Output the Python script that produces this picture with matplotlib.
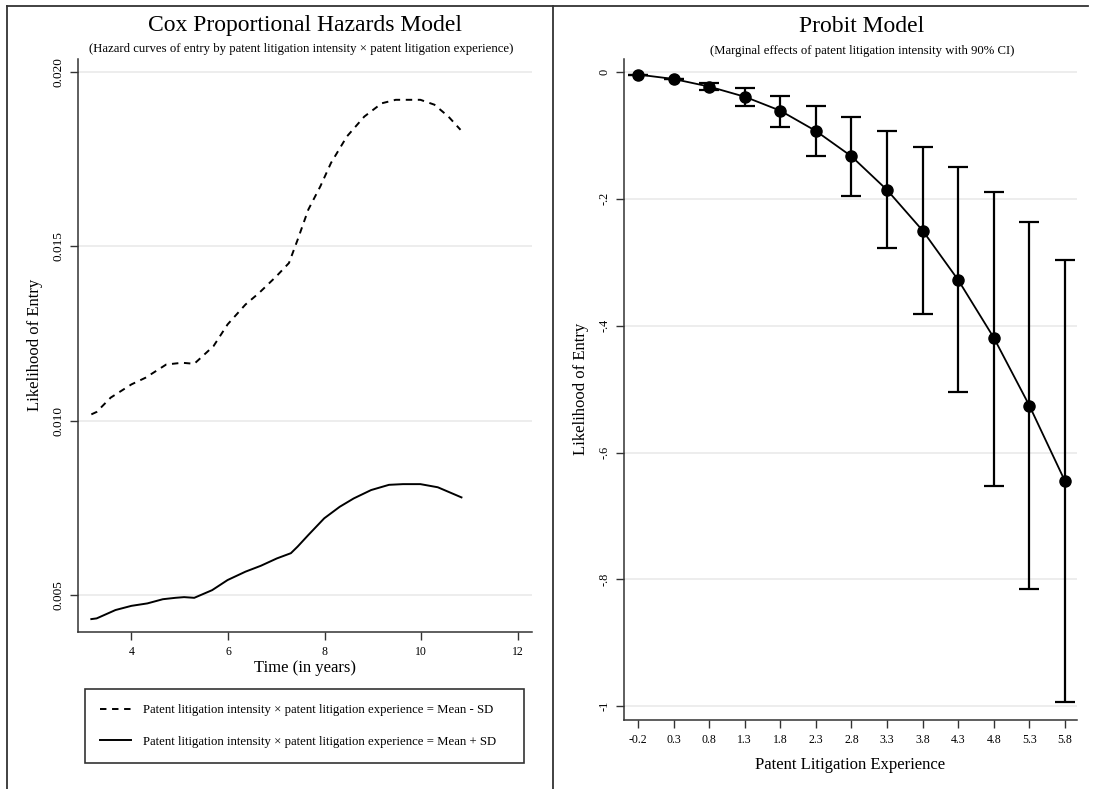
import matplotlib
matplotlib.use("Agg")
import matplotlib.pyplot as plt
from matplotlib.lines import Line2D

plt.rcParams['font.family'] = ['Liberation Serif', 'DejaVu Serif']

# left panel: hazard curves
t_minus = [3.17, 3.28, 3.57, 4.0, 4.29, 4.72, 5.05, 5.30, 5.70, 5.99, 6.36, 6.64, 7.0, 7.26,
           7.44, 7.66, 7.91, 8.13, 8.46, 8.82, 9.18, 9.47, 9.98, 10.27, 10.56, 10.81]
h_minus = [0.01018, 0.01025, 0.01066, 0.01104, 0.01123, 0.01161, 0.01166, 0.01163, 0.01214,
           0.01276, 0.01333, 0.01366, 0.01414, 0.01452, 0.01519, 0.01605, 0.01672, 0.01739,
           0.01815, 0.01872, 0.01910, 0.01920, 0.01920, 0.01906, 0.01872, 0.01834]
t_plus = [3.17, 3.28, 3.67, 4.0, 4.33, 4.65, 4.91, 5.09, 5.30, 5.67, 5.99, 6.36, 6.68, 7.01,
          7.30, 7.44, 7.66, 7.99, 8.31, 8.60, 8.96, 9.33, 9.62, 9.98, 10.34, 10.83]
h_plus = [0.00431, 0.00433, 0.00457, 0.00469, 0.00476, 0.00488, 0.00492, 0.00494, 0.00492,
          0.00514, 0.00543, 0.00567, 0.00584, 0.00605, 0.00620, 0.00639, 0.00672, 0.00720,
          0.00753, 0.00777, 0.00801, 0.00816, 0.00818, 0.00818, 0.00809, 0.00780]

# right panel: marginal effects with 90% CI
exper = [-0.2, 0.3, 0.8, 1.3, 1.8, 2.3, 2.8, 3.3, 3.8, 4.3, 4.8, 5.3, 5.8]
effect = [-0.004, -0.011, -0.023, -0.039, -0.061, -0.093, -0.133, -0.186, -0.250, -0.328,
          -0.419, -0.526, -0.645]
ci_hi = [-0.004, -0.011, -0.018, -0.026, -0.038, -0.054, -0.071, -0.093, -0.119, -0.150,
         -0.189, -0.236, -0.296]
ci_lo = [-0.004, -0.011, -0.028, -0.053, -0.086, -0.132, -0.196, -0.278, -0.381, -0.505,
         -0.652, -0.815, -0.994]

left_yticks = [0.005, 0.010, 0.015, 0.020]
left_xticks = [4, 6, 8, 10, 12]
right_yticks = [0, -0.2, -0.4, -0.6, -0.8, -1.0]
right_ylabels = ['0', '-.2', '-.4', '-.6', '-.8', '-1']

W, H = 1093, 789
fig = plt.figure(figsize=(W / 100, H / 100), dpi=100)
spine_col = '#333333'
dash = (0, (3.3, 2.9))


def box(l, t, r, b):
    return [l / W, 1 - b / H, (r - l) / W, (b - t) / H]


def style(ax, ysize):
    for s in ['top', 'right']:
        ax.spines[s].set_visible(False)
    for s in ['left', 'bottom']:
        ax.spines[s].set_color(spine_col)
        ax.spines[s].set_linewidth(1.1)
    ax.tick_params(direction='out', length=6, width=1.0, color=spine_col,
                   labelsize=8.5, pad=4)
    ax.tick_params(axis='y', labelsize=ysize)
    ax.yaxis.grid(True, color='#ececec', lw=1.3)
    ax.set_axisbelow(True)
    plt.setp(ax.get_yticklabels(), rotation=90, va='center')


# left
ax1 = fig.add_axes(box(78, 59, 532, 632))
ax1.plot(t_minus, h_minus, color='black', lw=1.4, ls=dash)
ax1.plot(t_plus, h_plus, color='black', lw=1.4)
ax1.set_xlim(2.894, 12.29)
ax1.set_ylim(0.00394, 0.02037)
ax1.set_xticks(left_xticks)
ax1.set_yticks(left_yticks)
ax1.set_yticklabels(['%.3f' % v for v in left_yticks])
style(ax1, 9.5)

# right
ax2 = fig.add_axes(box(624, 59, 1077, 720))
ax2.errorbar(exper, effect,
             yerr=[[e - l for e, l in zip(effect, ci_lo)], [h - e for e, h in zip(effect, ci_hi)]],
             fmt='o', color='black', ms=8, lw=1.5, ecolor='black', elinewidth=1.6,
             capsize=7.5, capthick=1.6, zorder=3)
ax2.plot(exper, effect, color='black', lw=1.3, zorder=3)
ax2.set_xlim(-0.397, 5.969)
ax2.set_ylim(-1.0216, 0.0205)
ax2.set_xticks(exper)
ax2.set_xticklabels(['%.1f' % v for v in exper])
ax2.set_yticks(right_yticks)
ax2.set_yticklabels(right_ylabels)
style(ax2, 8.8)

# titles and labels
fig.text(305 / W, 1 - 25 / H, 'Cox Proportional Hazards Model', ha='center', va='center', fontsize=17)
fig.text(301 / W, 1 - 49 / H,
         '(Hazard curves of entry by patent litigation intensity \u00d7 patent litigation experience)',
         ha='center', va='center', fontsize=9.2)
fig.text(862 / W, 1 - 27 / H, 'Probit Model', ha='center', va='center', fontsize=17)
fig.text(862 / W, 1 - 51 / H, '(Marginal effects of patent litigation intensity with 90% CI)',
         ha='center', va='center', fontsize=9.2)
fig.text(305 / W, 1 - 668 / H, 'Time (in years)', ha='center', va='center', fontsize=12)
fig.text(850 / W, 1 - 765 / H, 'Patent Litigation Experience', ha='center', va='center', fontsize=12)
fig.text(35 / W, 1 - 345 / H, 'Likelihood of Entry', ha='center', va='center', rotation=90, fontsize=12)
fig.text(581 / W, 1 - 389 / H, 'Likelihood of Entry', ha='center', va='center', rotation=90, fontsize=12)

# legend
handles = [Line2D([], [], color='black', lw=1.4, ls=dash),
           Line2D([], [], color='black', lw=1.4)]
labels = ['Patent litigation intensity \u00d7 patent litigation experience = Mean - SD',
          'Patent litigation intensity \u00d7 patent litigation experience = Mean + SD']
leg = fig.legend(handles, labels, loc='upper left',
                 bbox_to_anchor=(85 / W, 1 - 762 / H, 439 / W, 73 / H), mode='expand',
                 borderaxespad=0, fontsize=9.2, frameon=True, fancybox=False,
                 handlelength=2.4, handletextpad=0.95, labelspacing=1.5, borderpad=1.2)
leg.get_frame().set_edgecolor('black')
leg.get_frame().set_linewidth(1.2)

# panel borders
for xs, ys in [([7, 7], [6, H]), ([553, 553], [6, H]), ([7, 1088], [6, 6])]:
    fig.add_artist(Line2D([x / W for x in xs], [1 - y / H for y in ys], color=spine_col, lw=1.3))

fig.savefig('out.png', dpi=100)
